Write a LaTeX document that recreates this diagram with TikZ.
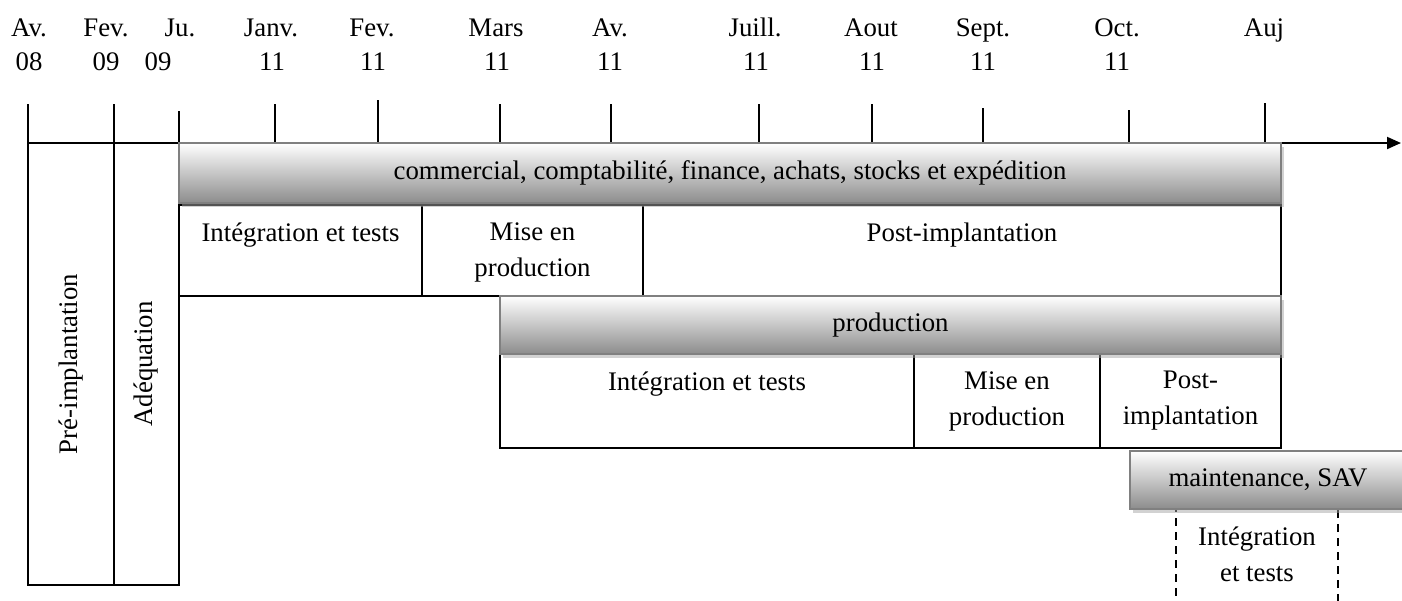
\documentclass[tikz,border=0pt]{standalone}
\usepackage{fontspec}
\setmainfont{Liberation Serif}
\usetikzlibrary{positioning,arrows.meta,shadows}

\begin{document}
\begin{tikzpicture}[x=0.5pt,y=-0.5pt,font=\fontsize{13.4}{18}\selectfont,
   box/.style 2 args={draw, line width=1pt, anchor=north west, inner sep=0pt, outer sep=0pt, minimum width=#1, minimum height=#2},
   bar/.style 2 args={box={#1}{#2}, draw=gray, top color=white, bottom color=gray!90, drop shadow={shadow xshift=1.5pt, shadow yshift=-2pt, fill=gray!70}},
   txt/.style={anchor=north, align=center, inner sep=0pt},
   tick/.style={line width=1pt}]
   \useasboundingbox (0,0) rectangle (1402,600);
   \foreach \x/\m in {29/Av., 106/Fev., 180/Ju., 271/Janv., 372/Fev., 496/Mars, 610/Av., 755/Juill., 871/Aout, 983/Sept., 1117/Oct., 1264/Auj}
      \node[anchor=base] (m\x) at (\x,36) {\m};
   \foreach \x/\y in {29/08, 106/09, 158/09, 272/11, 373/11, 497/11, 610/11, 756/11, 872/11, 983/11, 1117/11}
      \node[anchor=base] (y\x) at (\x,70) {\y};
   \foreach \x/\t in {28/104, 114/104, 179/111, 275/104, 378/100, 500/104, 611/104, 759/104, 872/104, 983/108, 1129/110, 1265/103}
      \draw[tick] (\x,\t) -- (\x,143);
   \coordinate (start) at (28,143);
   \coordinate (end) at (1401,143);
   \draw[line width=1pt, -{Triangle[length=7pt,width=6pt]}] (start) -- (end);
   \node[box={43pt}{221pt}] (pre) at (28,143) {};
   \node[rotate=90] at (pre.center) {Pré-implantation};
   \node[box={32.5pt}{221pt}] (ade) at (114,143) {};
   \node[rotate=90] at (ade.center) {Adéquation};
   \node[box={121.5pt}{45.5pt}] (int1) at (179,205) {};
   \node[box={110.5pt}{45.5pt}] (mep1) [right=0pt of int1] {};
   \node[box={319pt}{45.5pt}] (post1) [right=0pt of mep1] {};
   \node[txt, below=8.5pt of int1.north] {Intégration et tests};
   \node[txt, below=8.5pt of mep1.north] {Mise en\\production};
   \node[txt, below=8.5pt of post1.north] {Post-implantation};
   \node[bar={551pt}{30pt}] (com) at (179,143) {commercial, comptabilité, finance, achats, stocks et expédition};
   \node[box={207pt}{47pt}] (int2) at (500,354) {};
   \node[box={93pt}{47pt}] (mep2) [right=0pt of int2] {};
   \node[box={90.5pt}{47pt}] (post2) [right=0pt of mep2] {};
   \node[txt, below=8.5pt of int2.north] {Intégration et tests};
   \node[txt, below=8.5pt of mep2.north] {Mise en\\production};
   \node[txt, below=8.5pt of post2.north] {Post-\\implantation};
   \node[bar={390.5pt}{29pt}] (prod) at (500,296) {production};
   \node[box={81pt}{50pt}, dash pattern=on 4pt off 3pt] (int3) at (1176,508) {};
   \node[txt, below=9pt of int3.north] {Intégration\\et tests};
   \node[bar={138pt}{29pt}] (sav) at (1130,451) {maintenance, SAV};
\end{tikzpicture}
\end{document}
